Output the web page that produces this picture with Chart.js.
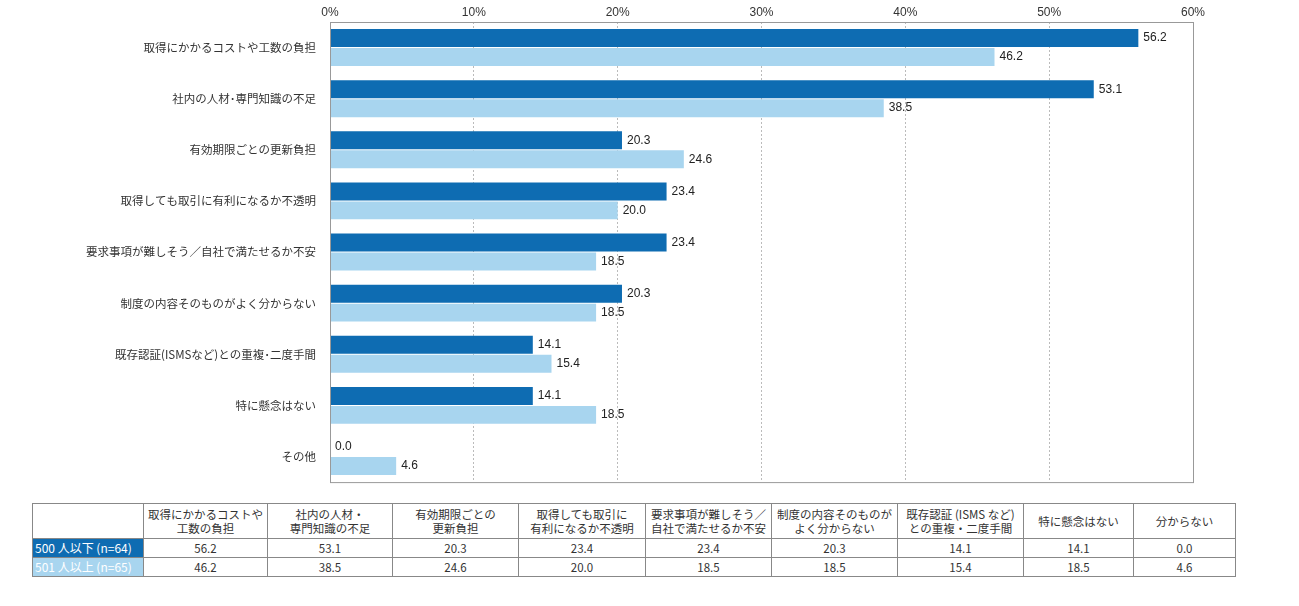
<!DOCTYPE html>
<html><head><meta charset="utf-8">
<script src="https://cdn.jsdelivr.net/npm/chart.js@4"></script>
<style>
body{margin:0;background:#fff;font-family:"Noto Sans CJK JP","Noto Sans",sans-serif;}
#wrap{position:absolute;left:0;top:0;width:1299px;height:495px;}
table{position:absolute;left:32px;top:503px;border-collapse:collapse;font-size:11.5px;color:#333;}
td{border:1px solid #888;text-align:center;padding:0;line-height:14px;}
</style></head><body>
<div id="wrap"><canvas id="c"></canvas></div>
<table id="t"></table>
<script>
const categories=["取得にかかるコストや工数の負担","社内の人材･専門知識の不足","有効期限ごとの更新負担","取得しても取引に有利になるか不透明","要求事項が難しそう／自社で満たせるか不安","制度の内容そのものがよく分からない","既存認証(ISMSなど)との重複･二度手間","特に懸念はない","その他"];
const tableHeaders=["取得にかかるコストや<br>工数の負担","社内の人材・<br>専門知識の不足","有効期限ごとの<br>更新負担","取得しても取引に<br>有利になるか不透明","要求事項が難しそう／<br>自社で満たせるか不安","制度の内容そのものが<br>よく分からない","既存認証 (ISMS など)<br>との重複・二度手間","特に懸念はない","分からない"];
const seriesNames=["500 人以下 (n=64)","501 人以上 (n=65)"];
const small=[56.2,53.1,20.3,23.4,23.4,20.3,14.1,14.1,0.0];
const large=[46.2,38.5,24.6,20.0,18.5,18.5,15.4,18.5,4.6];
const colors=["#0e6cb2","#a8d5ef"];
const colW=[110,123,124,125,126,125,125,125,109,101];

let t=document.getElementById('t');
let h='<tr style="height:35px"><td style="width:'+colW[0]+'px"></td>'+tableHeaders.map((x,i)=>'<td style="width:'+colW[i+1]+'px">'+x+'</td>').join('')+'</tr>';
[small,large].forEach((arr,k)=>{
 h+='<tr style="height:19px"><td style="background:'+colors[k]+';color:#fff;text-align:left;padding-left:2px;font-size:12px">'+seriesNames[k]+'</td>'+arr.map(v=>'<td>'+v.toFixed(1)+'</td>').join('')+'</tr>';
});
t.innerHTML=h;

const labelPlugin={id:'lbl',afterDatasetsDraw(ch){
 const ctx=ch.ctx;ctx.save();ctx.font='12px "Liberation Sans","Noto Sans",sans-serif';ctx.fillStyle='#222';ctx.textBaseline='middle';
 ch.data.datasets.forEach((d,i)=>{ch.getDatasetMeta(i).data.forEach((b,j)=>{ctx.fillText(d.data[j].toFixed(1),b.x+5,b.y);});});
 const a=ch.chartArea;ctx.strokeStyle='#999';ctx.lineWidth=1;ctx.strokeRect(a.left+0.5,a.top+0.5,a.right-a.left,a.bottom-a.top);
 ctx.restore();}};

new Chart(document.getElementById('c'),{type:'bar',
 data:{labels:categories,datasets:[
  {label:seriesNames[0],data:small,backgroundColor:colors[0]},
  {label:seriesNames[1],data:large,backgroundColor:colors[1]}]},
 options:{indexAxis:'y',responsive:true,maintainAspectRatio:false,animation:false,
  layout:{padding:{top:0,right:106,bottom:9,left:0}},
  categoryPercentage:0.74,barPercentage:0.95,
  plugins:{legend:{display:false},tooltip:{enabled:false}},
  scales:{
   x:{position:'top',min:0,max:60,afterFit:s=>{s.height=22;},ticks:{stepSize:10,callback:v=>v+'%',color:'#333',font:{size:12,family:'"Liberation Sans",sans-serif'},padding:2},
      grid:{color:'#bbb',drawTicks:false},border:{display:false,dash:[2,2]}},
   y:{afterFit:s=>{s.width=330;},ticks:{color:'#333',font:{size:11.5,family:'"Noto Sans CJK JP",sans-serif'},padding:6},grid:{display:false},border:{display:false}}
  }},
 plugins:[labelPlugin]});
</script></body></html>
